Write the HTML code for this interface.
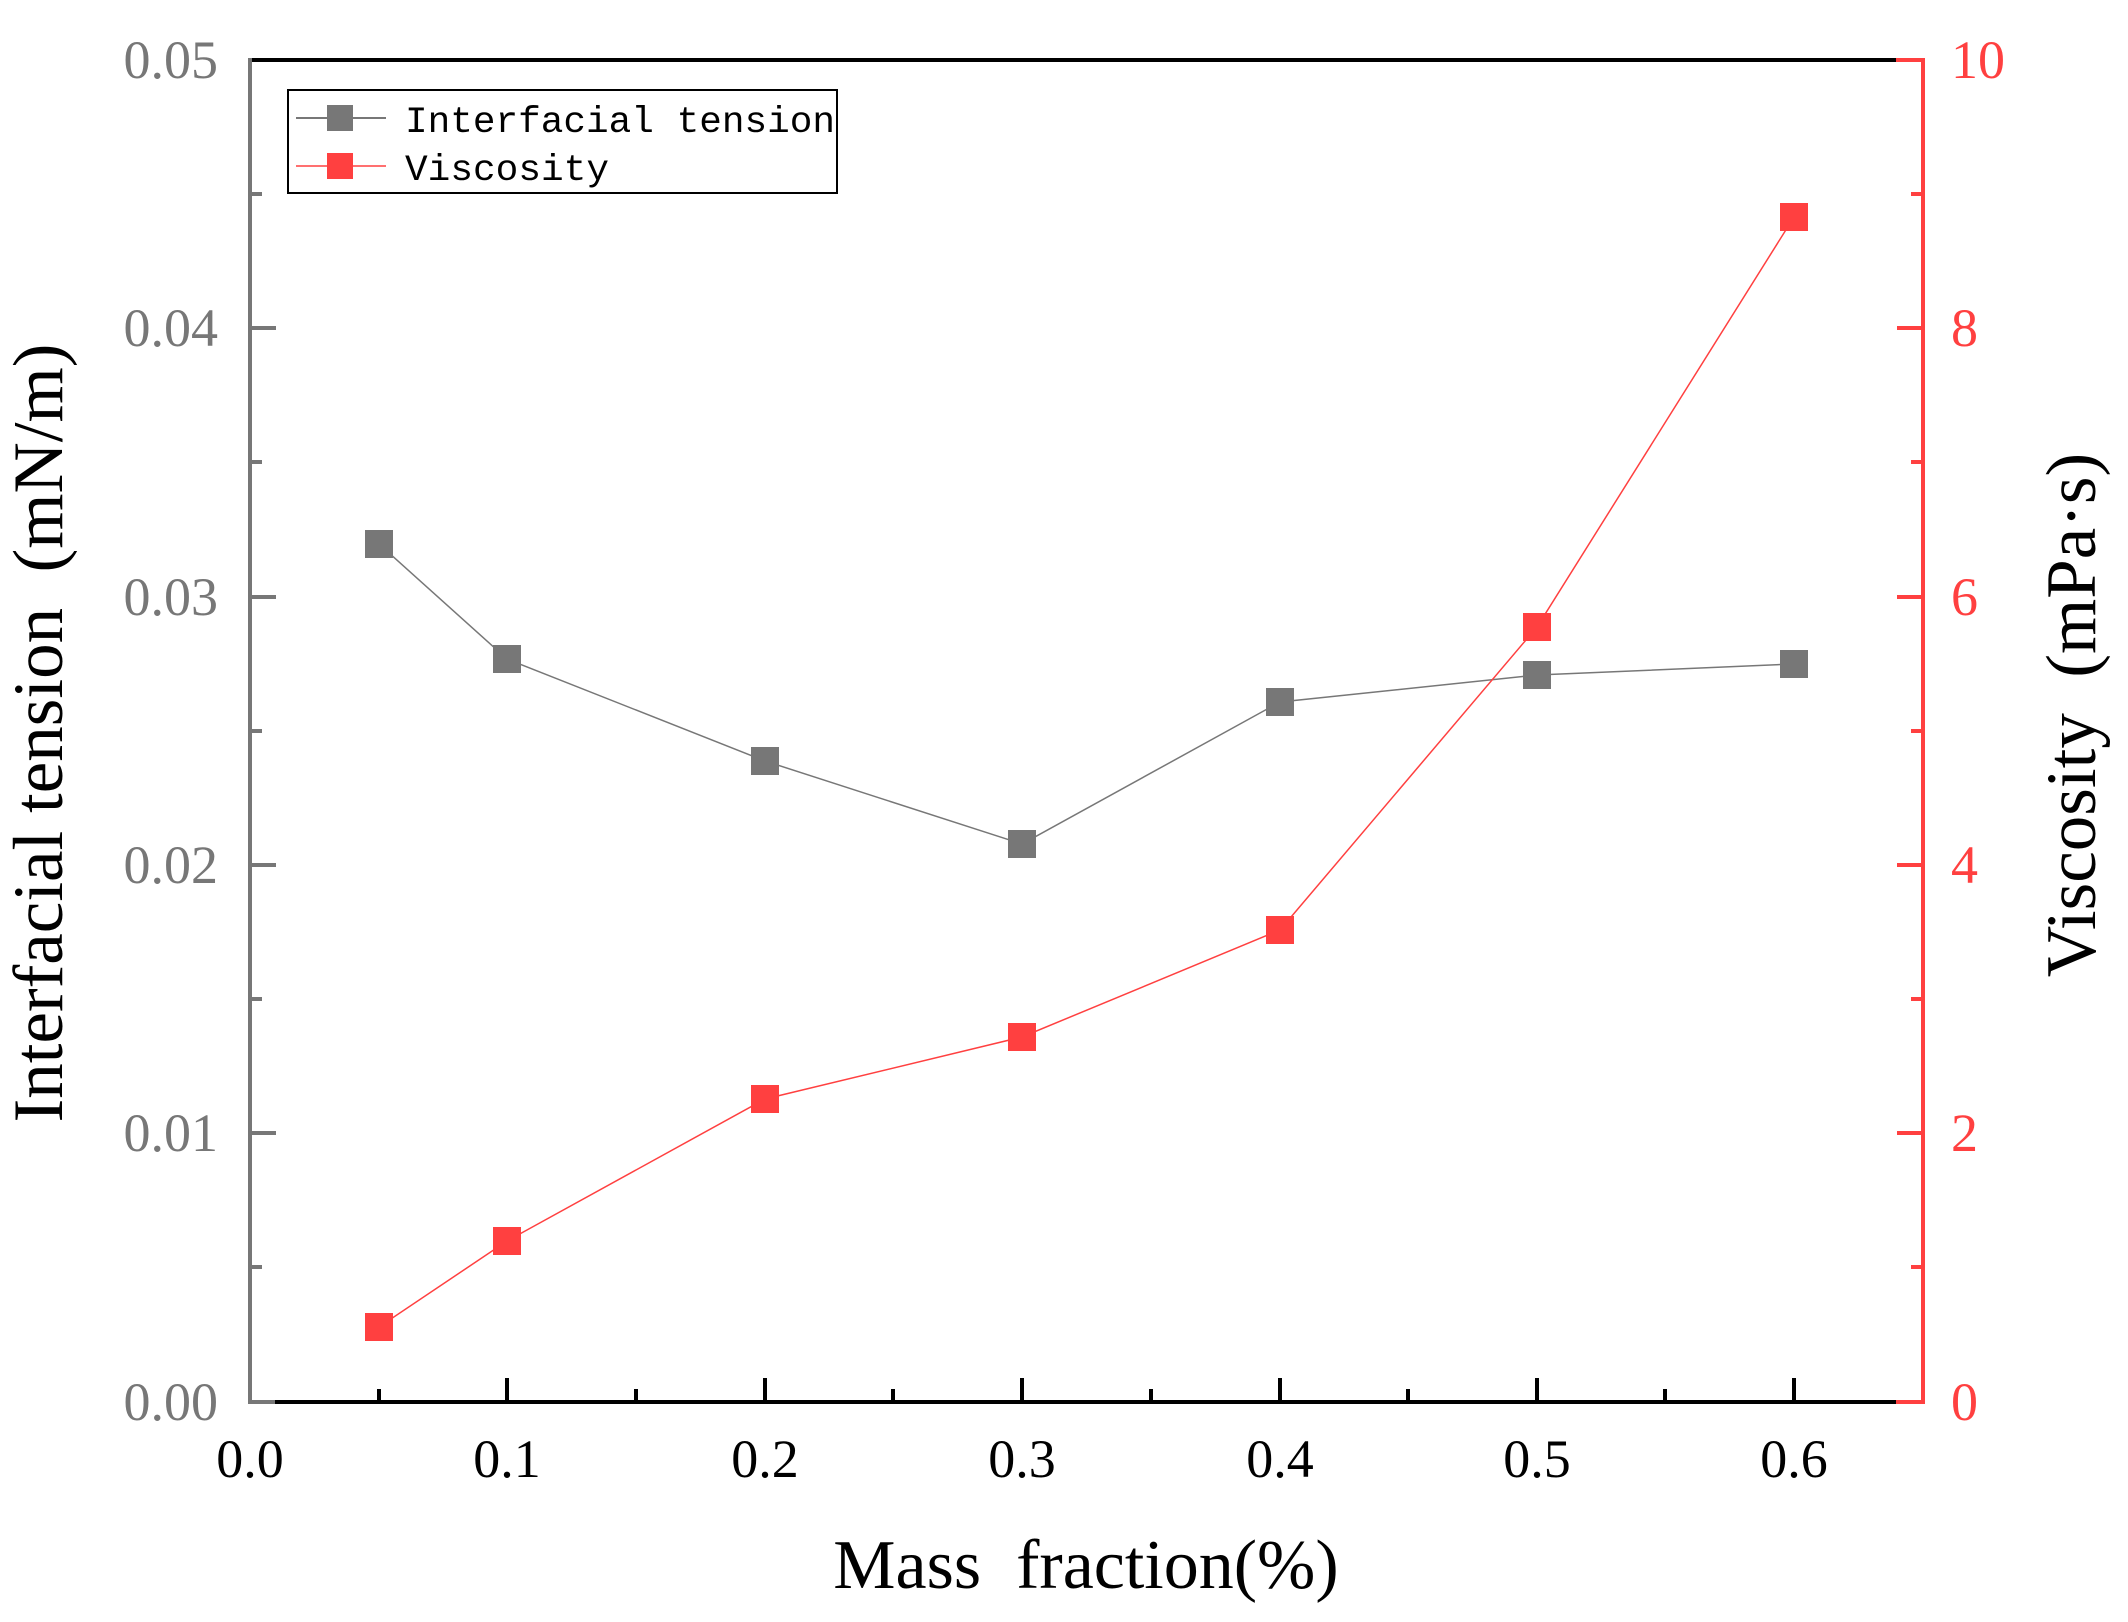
<!DOCTYPE html>
<html><head><meta charset="utf-8"><style>
html,body{margin:0;padding:0;background:#fff;}
svg{display:block;}
</style></head><body>
<svg width="2128" height="1622" viewBox="0 0 2128 1622" xmlns="http://www.w3.org/2000/svg">
<g font-family="Liberation Serif, serif">
<line x1="250" y1="60" x2="1896" y2="60" stroke="#000" stroke-width="4"/>
<line x1="1896" y1="60" x2="1923" y2="60" stroke="#ff4040" stroke-width="4"/>
<line x1="275" y1="1402" x2="1896" y2="1402" stroke="#000" stroke-width="4"/>
<line x1="248" y1="1402" x2="275" y2="1402" stroke="#777" stroke-width="4"/>
<line x1="1896" y1="1402" x2="1923" y2="1402" stroke="#ff4040" stroke-width="4"/>
<line x1="250" y1="58" x2="250" y2="1404" stroke="#777" stroke-width="4"/>
<line x1="1923" y1="58" x2="1923" y2="1404" stroke="#ff4040" stroke-width="4"/>
<g stroke="#000" stroke-width="4">
<line x1="507" y1="1402" x2="507" y2="1378"/><line x1="765" y1="1402" x2="765" y2="1378"/>
<line x1="1022" y1="1402" x2="1022" y2="1378"/><line x1="1280" y1="1402" x2="1280" y2="1378"/>
<line x1="1537" y1="1402" x2="1537" y2="1378"/><line x1="1794" y1="1402" x2="1794" y2="1378"/>
<line x1="379" y1="1402" x2="379" y2="1389"/><line x1="636" y1="1402" x2="636" y2="1389"/>
<line x1="893" y1="1402" x2="893" y2="1389"/><line x1="1151" y1="1402" x2="1151" y2="1389"/>
<line x1="1408" y1="1402" x2="1408" y2="1389"/><line x1="1665" y1="1402" x2="1665" y2="1389"/>
</g>
<g stroke="#777" stroke-width="4">
<line x1="250" y1="1133" x2="276" y2="1133"/><line x1="250" y1="865" x2="276" y2="865"/>
<line x1="250" y1="597" x2="276" y2="597"/><line x1="250" y1="328" x2="276" y2="328"/>
<line x1="250" y1="1267" x2="262" y2="1267"/><line x1="250" y1="999" x2="262" y2="999"/>
<line x1="250" y1="731" x2="262" y2="731"/><line x1="250" y1="462" x2="262" y2="462"/>
<line x1="250" y1="194" x2="262" y2="194"/>
</g>
<g stroke="#ff4040" stroke-width="4">
<line x1="1923" y1="1133" x2="1897" y2="1133"/><line x1="1923" y1="865" x2="1897" y2="865"/>
<line x1="1923" y1="597" x2="1897" y2="597"/><line x1="1923" y1="328" x2="1897" y2="328"/>
<line x1="1923" y1="1267" x2="1911" y2="1267"/><line x1="1923" y1="999" x2="1911" y2="999"/>
<line x1="1923" y1="731" x2="1911" y2="731"/><line x1="1923" y1="462" x2="1911" y2="462"/>
<line x1="1923" y1="194" x2="1911" y2="194"/>
</g>
<g fill="#777" font-size="54" text-anchor="end">
<text x="218" y="1420">0.00</text><text x="218" y="1151">0.01</text>
<text x="218" y="883">0.02</text><text x="218" y="615">0.03</text>
<text x="218" y="346">0.04</text><text x="218" y="78">0.05</text>
</g>
<g fill="#ff4040" font-size="54" text-anchor="start">
<text x="1951" y="1420">0</text><text x="1951" y="1151">2</text>
<text x="1951" y="883">4</text><text x="1951" y="615">6</text>
<text x="1951" y="346">8</text><text x="1951" y="78">10</text>
</g>
<g fill="#000" font-size="54" text-anchor="middle">
<text x="250" y="1477">0.0</text><text x="507" y="1477">0.1</text>
<text x="765" y="1477">0.2</text><text x="1022" y="1477">0.3</text>
<text x="1280" y="1477">0.4</text><text x="1537" y="1477">0.5</text>
<text x="1794" y="1477">0.6</text>
</g>
<text x="1086" y="1588" font-size="70" text-anchor="middle" fill="#000" xml:space="preserve">Mass  fraction(%)</text>
<text transform="translate(62,733) rotate(-90)" font-size="71" text-anchor="middle" fill="#000" xml:space="preserve">Interfacial tension  (mN/m)</text>
<text transform="translate(2095,715) rotate(-90)" font-size="71" text-anchor="middle" fill="#000" xml:space="preserve">Viscosity  (mPa·s)</text>
<polyline fill="none" stroke="#777" stroke-width="1.5" points="379,544 507,659 765,761 1022,844 1280,702 1537,675 1794,664"/>
<g fill="#777">
<rect x="365" y="530" width="28" height="28"/><rect x="493" y="645" width="28" height="28"/>
<rect x="751" y="747" width="28" height="28"/><rect x="1008" y="830" width="28" height="28"/>
<rect x="1266" y="688" width="28" height="28"/><rect x="1523" y="661" width="28" height="28"/>
<rect x="1780" y="650" width="28" height="28"/>
</g>
<polyline fill="none" stroke="#ff4040" stroke-width="1.5" points="379,1327 507,1241 765,1099 1022,1037 1280,930 1537,627 1794,217"/>
<g fill="#ff4040">
<rect x="365" y="1313" width="28" height="28"/><rect x="493" y="1227" width="28" height="28"/>
<rect x="751" y="1085" width="28" height="28"/><rect x="1008" y="1023" width="28" height="28"/>
<rect x="1266" y="916" width="28" height="28"/><rect x="1523" y="613" width="28" height="28"/>
<rect x="1780" y="203" width="28" height="28"/>
</g>
<rect x="288" y="90" width="549" height="103" fill="#fff" stroke="#000" stroke-width="2"/>
<line x1="296" y1="118" x2="386" y2="118" stroke="#777" stroke-width="2"/>
<rect x="327" y="105" width="26" height="26" fill="#777"/>
<line x1="296" y1="166" x2="386" y2="166" stroke="#ff4040" stroke-width="1.5"/>
<rect x="327" y="153" width="26" height="26" fill="#ff4040"/>
<g font-family="Liberation Mono, monospace" font-size="37" fill="#000">
<text x="405" y="132" textLength="430" lengthAdjust="spacingAndGlyphs">Interfacial tension</text>
<text x="405" y="180" textLength="204" lengthAdjust="spacingAndGlyphs">Viscosity</text>
</g>
</g>
</svg>
</body></html>
